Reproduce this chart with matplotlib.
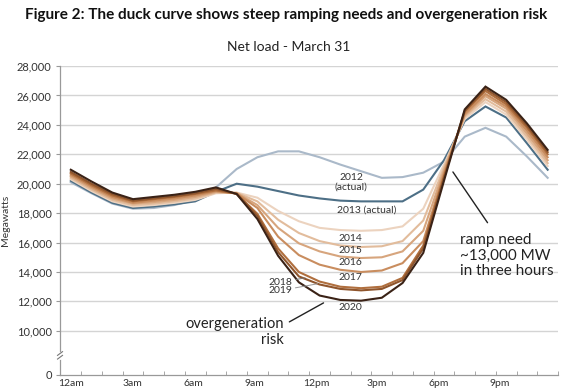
import matplotlib
matplotlib.use('Agg')
import matplotlib.pyplot as plt
import numpy as np

plt.rcParams['font.family'] = ['Lato', 'DejaVu Sans']

# hourly net load, MW (hour ending 1..24)
hours = np.arange(24)
tick_labels = ['12am', '3am', '6am', '9am', '12pm', '3pm', '6pm', '9pm']
years = ['2012', '2013', '2014', '2015', '2016', '2017', '2018', '2019', '2020']

load_2012 = [20100, 19350, 18650, 18300, 18350, 18550, 18900, 19750, 21000, 21800, 22200, 22200,
             21800, 21300, 20850, 20400, 20450, 20750, 21500, 23200, 23800, 23200, 21850, 20400]
load_2013 = [20200, 19400, 18700, 18350, 18450, 18600, 18800, 19450, 20000, 19800, 19500, 19200,
             19000, 18850, 18800, 18800, 18800, 19600, 21600, 24250, 25250, 24500, 22750, 20950]
load_2014 = [20300, 19500, 18800, 18450, 18550, 18700, 18900, 19350, 19400, 19050, 18150, 17450,
             17000, 16850, 16800, 16850, 17100, 18300, 21300, 24400, 25550, 24700, 23000, 21200]
load_2015 = [20400, 19600, 18900, 18550, 18650, 18800, 19000, 19400, 19380, 18800, 17550, 16650,
             16100, 15800, 15700, 15750, 16100, 17500, 21100, 24550, 25750, 24900, 23200, 21400]
load_2016 = [20500, 19700, 19000, 18650, 18750, 18900, 19100, 19450, 19360, 18550, 17000, 15950,
             15400, 15050, 14950, 15000, 15400, 16800, 20900, 24650, 25950, 25100, 23400, 21600]
load_2017 = [20600, 19800, 19100, 18700, 18850, 19000, 19200, 19500, 19340, 18350, 16400, 15150,
             14500, 14150, 14000, 14100, 14600, 16100, 20700, 24750, 26100, 25250, 23600, 21800]
load_2018 = [20700, 19900, 19200, 18800, 18950, 19100, 19300, 19550, 19320, 17950, 15600, 14000,
             13350, 13000, 12900, 13000, 13600, 15800, 20500, 24900, 26300, 25400, 23800, 22000]
load_2019 = [20800, 20000, 19300, 18850, 19000, 19150, 19350, 19650, 19310, 17800, 15350, 13700,
             13150, 12850, 12750, 12850, 13450, 15600, 20400, 24950, 26450, 25550, 23950, 22150]
load_2020 = [20950, 20150, 19400, 18950, 19100, 19250, 19450, 19750, 19300, 17600, 15100, 13300,
             12400, 12100, 12050, 12250, 13250, 15300, 20200, 25050, 26600, 25700, 24100, 22300]

series = [load_2012, load_2013, load_2014, load_2015, load_2016,
          load_2017, load_2018, load_2019, load_2020]
colors = ['#aab9c9', '#4d6f86', '#ecd3bf', '#e2bc9c', '#d7a57d',
          '#c98d5f', '#b06f3e', '#8f552c', '#3a2216']

fig = plt.figure(figsize=(5.7, 3.92), dpi=100)
ax = fig.add_axes([0.1053, 0.0434, 0.8737, 0.7882])

for vals, c in zip(series, colors):
    ax.plot(hours, vals, color=c, lw=1.5, solid_joinstyle='miter')

ax.set_xlim(-0.52, 23.2)
ax.set_ylim(7000, 28000)

yt = list(range(10000, 28001, 2000))
ax.set_yticks([7000] + yt)
ax.set_yticklabels(['0'] + ['{:,}'.format(v) for v in yt])
for v in yt:
    ax.axhline(v, color='#d4d4d4', lw=1, zorder=0)

ax.set_xticks(np.arange(8) * 3 * 0.985)
ax.set_xticklabels(tick_labels)
ax.set_xticks(np.arange(25) - 0.5, minor=True)
ax.tick_params(axis='x', which='major', length=0, labelsize=7.5, pad=3, colors='#333333')
ax.tick_params(axis='x', which='minor', length=3, direction='in', color='#999999')
ax.tick_params(axis='y', length=3, labelsize=8, pad=3, color='#999999', labelcolor='#333333')

for s in ['top', 'right']:
    ax.spines[s].set_visible(False)
for s in ['left', 'bottom']:
    ax.spines[s].set_color('#999999')
    ax.spines[s].set_linewidth(0.9)

ax.set_ylabel('Megawatts', fontsize=7.5, color='#333333', labelpad=5)

# axis break on the y axis
bx, by = 0.0, 0.0635
ax.plot([bx, bx], [by - 0.008, by + 0.008], transform=ax.transAxes, color='white', lw=2, clip_on=False, zorder=5)
for dy in (-0.006, 0.006):
    ax.plot([bx - 0.005, bx + 0.005], [by + dy - 0.006, by + dy + 0.006], transform=ax.transAxes,
            color='#777777', lw=0.8, clip_on=False, zorder=6)

tc = '#333333'
fs = 7.5
ax.text(13.52, 20080, '2012\n(actual)', ha='center', va='center', fontsize=fs, color=tc, linespacing=1.1)
ax.text(14.29, 18230, '2013 (actual)', ha='center', va='center', fontsize=fs, color=tc)
ax.text(13.48, 16300, '2014', ha='center', va='center', fontsize=fs, color=tc)
ax.text(13.48, 15440, '2015', ha='center', va='center', fontsize=fs, color=tc)
ax.text(13.48, 14650, '2016', ha='center', va='center', fontsize=fs, color=tc)
ax.text(13.48, 13630, '2017', ha='center', va='center', fontsize=fs, color=tc)
ax.text(13.48, 11610, '2020', ha='center', va='center', fontsize=fs, color=tc)
ax.annotate('2018', xy=(11.3, 13600), xytext=(10.7, 13310), ha='right', va='center',
            fontsize=fs, color=tc, arrowprops=dict(arrowstyle='-', color='#777777', lw=0.7,
                                                   shrinkA=0, shrinkB=0))
ax.annotate('2019', xy=(11.9, 13200), xytext=(10.7, 12740), ha='right', va='center',
            fontsize=fs, color=tc, arrowprops=dict(arrowstyle='-', color='#999999', lw=0.7,
                                                   shrinkA=0, shrinkB=0))

ax.annotate('overgeneration\nrisk', xy=(12.19, 11900), xytext=(10.29, 9900), ha='right', va='center',
            multialignment='right', fontsize=10.5, color='#222222', linespacing=1.2,
            arrowprops=dict(arrowstyle='-', color='#222222', lw=1, shrinkA=2, shrinkB=0,
                            relpos=(1.0, 0.75)))
ax.annotate('', xy=(18.43, 20800), xytext=(20.1, 17350),
            arrowprops=dict(arrowstyle='-', color='#222222', lw=1, shrinkA=0, shrinkB=0))
ax.text(18.76, 15100, 'ramp need\n~13,000 MW\nin three hours', ha='left', va='center',
        fontsize=11, color='#222222', linespacing=1.15)

fig.text(0.502, 0.962, 'Figure 2: The duck curve shows steep ramping needs and overgeneration risk',
         ha='center', va='center', fontsize=11, fontweight='bold', color='#111111')
fig.text(0.507, 0.88, 'Net load - March 31', ha='center', va='center', fontsize=10, color='#222222')

fig.savefig('out.png', dpi=100)
